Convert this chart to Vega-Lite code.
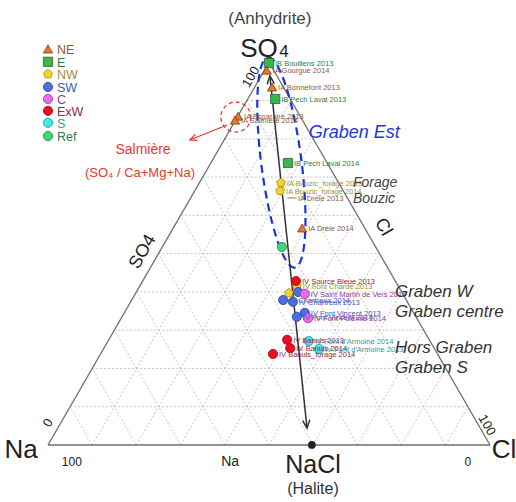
{
  "$schema": "https://vega.github.io/schema/vega-lite/v6.json",
  "width": 516,
  "height": 502,
  "autosize": "none",
  "padding": 0,
  "background": "white",
  "config": {"view": {"stroke": null}, "font": "Liberation Sans", "text": {"font": "Liberation Sans"}},
  "encoding": {
    "x": {"field": "x", "type": "quantitative", "scale": {"domain": [-10.86, 105.88], "nice": false, "zero": false}, "axis": null},
    "y": {"field": "y", "type": "quantitative", "scale": {"domain": [-12.9, 100.68], "nice": false, "zero": false}, "axis": null}
  },
  "layer": [
    {
      "data": {"values": [
        {"x": 5, "y": 8.66, "x2": 95, "y2": 8.66}, {"x": 10, "y": 0, "x2": 55, "y2": 77.94}, {"x": 90, "y": 0, "x2": 45, "y2": 77.94},
        {"x": 10, "y": 17.32, "x2": 90, "y2": 17.32}, {"x": 20, "y": 0, "x2": 60, "y2": 69.28}, {"x": 80, "y": 0, "x2": 40, "y2": 69.28},
        {"x": 15, "y": 25.98, "x2": 85, "y2": 25.98}, {"x": 30, "y": 0, "x2": 65, "y2": 60.62}, {"x": 70, "y": 0, "x2": 35, "y2": 60.62},
        {"x": 20, "y": 34.64, "x2": 80, "y2": 34.64}, {"x": 40, "y": 0, "x2": 70, "y2": 51.96}, {"x": 60, "y": 0, "x2": 30, "y2": 51.96},
        {"x": 25, "y": 43.3, "x2": 75, "y2": 43.3}, {"x": 50, "y": 0, "x2": 75, "y2": 43.3}, {"x": 50, "y": 0, "x2": 25, "y2": 43.3},
        {"x": 30, "y": 51.96, "x2": 70, "y2": 51.96}, {"x": 60, "y": 0, "x2": 80, "y2": 34.64}, {"x": 40, "y": 0, "x2": 20, "y2": 34.64},
        {"x": 35, "y": 60.62, "x2": 65, "y2": 60.62}, {"x": 70, "y": 0, "x2": 85, "y2": 25.98}, {"x": 30, "y": 0, "x2": 15, "y2": 25.98},
        {"x": 40, "y": 69.28, "x2": 60, "y2": 69.28}, {"x": 80, "y": 0, "x2": 90, "y2": 17.32}, {"x": 20, "y": 0, "x2": 10, "y2": 17.32},
        {"x": 45, "y": 77.94, "x2": 55, "y2": 77.94}, {"x": 90, "y": 0, "x2": 95, "y2": 8.66}, {"x": 10, "y": 0, "x2": 5, "y2": 8.66}
      ]},
      "mark": {"type": "rule", "color": "#b5b5b5", "strokeWidth": 0.8, "strokeDash": [2, 2]},
      "encoding": {"x2": {"field": "x2"}, "y2": {"field": "y2"}}
    },
    {
      "data": {"values": [
        {"x": 0, "y": 0, "x2": 100, "y2": 0}, {"x": 0, "y": 0, "x2": 50, "y2": 86.6}, {"x": 100, "y": 0, "x2": 50, "y2": 86.6}
      ]},
      "mark": {"type": "rule", "color": "#6e6e6e", "strokeWidth": 1.3},
      "encoding": {"x2": {"field": "x2"}, "y2": {"field": "y2"}}
    },
    {
      "data": {"values": [{"x": 52.8, "y": 63.9}]},
      "mark": {"type": "point", "shape": "M0,-1C0.105,-1 0.19,-0.552 0.19,0C0.19,0.552 0.105,1 0,1C-0.105,1 -0.19,0.552 -0.19,0C-0.19,-0.552 -0.105,-1 0,-1Z", "size": 44944, "angle": 352.7, "filled": false, "stroke": "#1b33dd", "strokeWidth": 2.2, "strokeDash": [8, 5], "opacity": 1}
    },
    {
      "data": {"values": [{"x": 42.5, "y": 74.2}]},
      "mark": {"type": "point", "shape": "circle", "size": 900, "filled": false, "stroke": "#e5392f", "strokeWidth": 1.3, "strokeDash": [4, 3], "opacity": 1}
    },
    {
      "data": {"values": [{"x": 50.2, "y": 83.5, "x2": 58.6, "y2": 3.8}]},
      "mark": {"type": "rule", "color": "#333333", "strokeWidth": 1.5},
      "encoding": {"x2": {"field": "x2"}, "y2": {"field": "y2"}}
    },
    {
      "data": {"values": [{"x": 50.2, "y": 83.5}]},
      "mark": {"type": "point", "shape": "M-0.45,1L0,0L0.45,1", "size": 256, "angle": 354, "filled": false, "stroke": "#333333", "strokeWidth": 1.5, "opacity": 1}
    },
    {
      "data": {"values": [{"x": 58.6, "y": 3.8}]},
      "mark": {"type": "point", "shape": "M-0.45,1L0,0L0.45,1", "size": 256, "angle": 174, "filled": false, "stroke": "#333333", "strokeWidth": 1.5, "opacity": 1}
    },
    {
      "data": {"values": [{"x": 40.5, "y": 72.4, "x2": 32.1, "y2": 69.0}]},
      "mark": {"type": "rule", "color": "#e5392f", "strokeWidth": 1.3},
      "encoding": {"x2": {"field": "x2"}, "y2": {"field": "y2"}}
    },
    {
      "data": {"values": [{"x": 32.1, "y": 69.0}]},
      "mark": {"type": "point", "shape": "M-0.45,1L0,0L0.45,1", "size": 200, "angle": 248, "filled": false, "stroke": "#e5392f", "strokeWidth": 1.3, "opacity": 1}
    },
    {
      "data": {"values": [{"x": 59.7, "y": 0}]},
      "mark": {"type": "point", "shape": "circle", "size": 60, "filled": true, "color": "#222222", "opacity": 1}
    },
    {
      "data": {"name": "samples", "values": [
        {"g": "E", "x": 50.0, "y": 86.4, "label": "IB Bouillens 2013"},
        {"g": "NE", "x": 49.5, "y": 84.8, "label": "IA Gourgue 2014"},
        {"g": "NE", "x": 50.7, "y": 81.0, "label": "IA Bonnefont 2013"},
        {"g": "E", "x": 51.4, "y": 78.3, "label": "IB Pech Laval 2013"},
        {"g": "NE", "x": 43.0, "y": 74.4, "label": "IA Esparaire 2013"},
        {"g": "NE", "x": 42.3, "y": 73.5, "label": "IA Salmière 2014"},
        {"g": "E", "x": 54.3, "y": 63.8, "label": "IB Pech Laval 2014"},
        {"g": "NW", "x": 52.7, "y": 59.3, "label": "IA Bouzic_forage 2013"},
        {"g": "NW", "x": 52.5, "y": 57.5, "label": "IA Bouzic_forage 2014"},
        {"g": "NEd", "x": 55.2, "y": 55.9, "label": "IA Drèie 2013"},
        {"g": "NE", "x": 57.5, "y": 49.1, "label": "IA Drèie 2014"},
        {"g": "Ref", "x": 52.9, "y": 44.8, "label": ""},
        {"g": "NW", "x": 56.3, "y": 35.9, "label": "IV Font Charde 2013"},
        {"g": "ExW", "x": 56.1, "y": 37.1, "label": "IV Source Bleue  2013"},
        {"g": "NW", "x": 54.5, "y": 34.4, "label": ""},
        {"g": "SW", "x": 56.6, "y": 34.6, "label": ""},
        {"g": "C", "x": 58.1, "y": 34.2, "label": "IV Saint Martin de Vers 2014"},
        {"g": "SW", "x": 53.2, "y": 32.8, "label": "IV Chartreux 2014"},
        {"g": "SW", "x": 55.4, "y": 32.4, "label": "IV Chartreux 2013"},
        {"g": "SW", "x": 58.1, "y": 29.9, "label": "IV Font Vincent 2013"},
        {"g": "SW", "x": 56.3, "y": 29.0, "label": "IV Font Vincent 2014"},
        {"g": "C", "x": 58.8, "y": 28.7, "label": "IV Font Polémie 2014"},
        {"g": "ExW", "x": 54.1, "y": 23.8, "label": "IV Banuls 2013"},
        {"g": "ExW", "x": 54.8, "y": 21.9, "label": "IV Banuls 2014"},
        {"g": "ExW", "x": 50.9, "y": 20.6, "label": "IV Banuls_forage 2014"},
        {"g": "S", "x": 59.0, "y": 23.5, "label": "IV Font d'Armoine 2014"},
        {"g": "S", "x": 61.3, "y": 21.7, "label": "IV Font d'Armoine 2013"}
      ]},
      "layer": [
        {
          "mark": {"type": "point", "filled": true, "size": 85, "strokeWidth": 0.8, "opacity": 1},
          "encoding": {
            "shape": {"field": "g", "type": "nominal", "legend": null, "scale": {"domain": ["NE", "E", "NW", "SW", "C", "ExW", "S", "Ref", "NEd"], "range": ["triangle-up", "square", "M0,-1L0.951,-0.309L0.588,0.809L-0.588,0.809L-0.951,-0.309Z", "circle", "circle", "circle", "circle", "circle", "stroke"]}},
            "fill": {"field": "g", "type": "nominal", "legend": null, "scale": {"domain": ["NE", "E", "NW", "SW", "C", "ExW", "S", "Ref", "NEd"], "range": ["#e5772e", "#3cb54a", "#f5d327", "#4a6fe3", "#ee6bef", "#ea1020", "#3ee8e6", "#3fd96f", "#8b4513"]}},
            "stroke": {"field": "g", "type": "nominal", "legend": null, "scale": {"domain": ["NE", "E", "NW", "SW", "C", "ExW", "S", "Ref", "NEd"], "range": ["#7a3a12", "#1d6b27", "#a88a10", "#26409a", "#9b2c9f", "#9a0a10", "#1c9a98", "#1f8a40", "#8b4513"]}}
          }
        },
        {
          "mark": {"type": "text", "align": "left", "baseline": "middle", "dx": 6, "dy": 1, "fontSize": 7.5},
          "encoding": {
            "text": {"field": "label"},
            "color": {"field": "g", "type": "nominal", "legend": null, "scale": {"domain": ["NE", "E", "NW", "SW", "C", "ExW", "S", "Ref", "NEd"], "range": ["#8b5a3c", "#2e7d3a", "#a08f3a", "#4755b8", "#8e3a8e", "#8c2a40", "#3a9a98", "#2e7d4a", "#8b5a3c"]}}
          }
        }
      ]
    },
    {
      "data": {"values": [
        {"g": "NE", "name": "NE", "x": 0, "y": 89.6},
        {"g": "E", "name": "E", "x": 0, "y": 86.7},
        {"g": "NW", "name": "NW", "x": 0, "y": 83.9},
        {"g": "SW", "name": "SW", "x": 0, "y": 81.0},
        {"g": "C", "name": "C", "x": 0, "y": 78.3},
        {"g": "ExW", "name": "ExW", "x": 0, "y": 75.6},
        {"g": "S", "name": "S", "x": 0, "y": 72.9},
        {"g": "Ref", "name": "Ref", "x": 0, "y": 69.9}
      ]},
      "layer": [
        {
          "mark": {"type": "point", "filled": true, "size": 85, "strokeWidth": 0.8, "opacity": 1},
          "encoding": {
            "shape": {"field": "g", "type": "nominal", "legend": null},
            "fill": {"field": "g", "type": "nominal", "legend": null},
            "stroke": {"field": "g", "type": "nominal", "legend": null}
          }
        },
        {
          "mark": {"type": "text", "align": "left", "baseline": "middle", "dx": 9, "dy": 1, "fontSize": 12.5},
          "encoding": {
            "text": {"field": "name"},
            "color": {"field": "g", "type": "nominal", "legend": null}
          }
        }
      ]
    },
    {
      "data": {"values": [{"x": 50.2, "y": 96.4, "t": "(Anhydrite)"}]},
      "mark": {"type": "text", "fontSize": 17, "color": "#444444", "align": "center", "baseline": "middle"},
      "encoding": {"text": {"field": "t"}}
    },
    {
      "data": {"values": [{"x": 52.0, "y": 87.8, "t": "SO"}]},
      "mark": {"type": "text", "fontSize": 26, "color": "#222222", "align": "right", "baseline": "alphabetic"},
      "encoding": {"text": {"field": "t"}}
    },
    {
      "data": {"values": [{"x": 52.3, "y": 87.8, "t": "4"}]},
      "mark": {"type": "text", "fontSize": 17, "color": "#222222", "align": "left", "baseline": "alphabetic"},
      "encoding": {"text": {"field": "t"}}
    },
    {
      "data": {"values": [{"x": -2.3, "y": -1.1, "t": "Na"}]},
      "mark": {"type": "text", "fontSize": 26, "color": "#222222", "align": "right", "baseline": "middle"},
      "encoding": {"text": {"field": "t"}}
    },
    {
      "data": {"values": [{"x": 100.4, "y": -1.1, "t": "Cl"}]},
      "mark": {"type": "text", "fontSize": 26, "color": "#222222", "align": "left", "baseline": "middle"},
      "encoding": {"text": {"field": "t"}}
    },
    {
      "data": {"values": [{"x": 59.95, "y": -4.5, "t": "NaCl"}]},
      "mark": {"type": "text", "fontSize": 25, "color": "#222222", "align": "center", "baseline": "middle"},
      "encoding": {"text": {"field": "t"}}
    },
    {
      "data": {"values": [{"x": 59.95, "y": -10.0, "t": "(Halite)"}]},
      "mark": {"type": "text", "fontSize": 16, "color": "#333333", "align": "center", "baseline": "middle"},
      "encoding": {"text": {"field": "t"}}
    },
    {
      "data": {"values": [{"x": 41.2, "y": -3.85, "t": "Na"}]},
      "mark": {"type": "text", "fontSize": 14, "color": "#222222", "align": "center", "baseline": "middle"},
      "encoding": {"text": {"field": "t"}}
    },
    {
      "data": {"values": [{"x": 5.4, "y": -3.85, "t": "100"}, {"x": 95.0, "y": -3.85, "t": "0"}]},
      "mark": {"type": "text", "fontSize": 12, "color": "#222222", "align": "center", "baseline": "middle"},
      "encoding": {"text": {"field": "t"}}
    },
    {
      "data": {"values": [{"x": 21.5, "y": 43.7, "t": "SO4"}]},
      "mark": {"type": "text", "fontSize": 18, "color": "#222222", "align": "center", "baseline": "middle", "angle": 300},
      "encoding": {"text": {"field": "t"}}
    },
    {
      "data": {"values": [{"x": 45.9, "y": 83.3, "t": "100"}, {"x": 0.0, "y": 5.0, "t": "0"}]},
      "mark": {"type": "text", "fontSize": 13, "color": "#222222", "align": "center", "baseline": "middle", "angle": 300},
      "encoding": {"text": {"field": "t"}}
    },
    {
      "data": {"values": [{"x": 75.8, "y": 49.3, "t": "Cl"}]},
      "mark": {"type": "text", "fontSize": 18, "color": "#222222", "align": "center", "baseline": "middle", "angle": 60},
      "encoding": {"text": {"field": "t"}}
    },
    {
      "data": {"values": [{"x": 99.3, "y": 4.5, "t": "100"}]},
      "mark": {"type": "text", "fontSize": 13, "color": "#222222", "align": "center", "baseline": "middle", "angle": 60},
      "encoding": {"text": {"field": "t"}}
    },
    {
      "data": {"values": [{"x": 21.5, "y": 66.7, "t": "Salmière"}]},
      "mark": {"type": "text", "fontSize": 14, "color": "#e5392f", "align": "center", "baseline": "middle"},
      "encoding": {"text": {"field": "t"}}
    },
    {
      "data": {"values": [{"x": 20.8, "y": 61.5, "t": "(SO₄ / Ca+Mg+Na)"}]},
      "mark": {"type": "text", "fontSize": 13, "color": "#e5392f", "align": "center", "baseline": "middle"},
      "encoding": {"text": {"field": "t"}}
    },
    {
      "data": {"values": [{"x": 59.0, "y": 70.6, "t": "Graben Est"}]},
      "mark": {"type": "text", "fontSize": 18, "fontStyle": "italic", "color": "#2436d4", "align": "left", "baseline": "middle"},
      "encoding": {"text": {"field": "t"}}
    },
    {
      "data": {"values": [{"x": 69.0, "y": 59.3, "t": "Forage"}, {"x": 69.0, "y": 55.7, "t": "Bouzic"}]},
      "mark": {"type": "text", "fontSize": 14, "fontStyle": "italic", "color": "#444444", "align": "left", "baseline": "middle"},
      "encoding": {"text": {"field": "t"}}
    },
    {
      "data": {"values": [{"x": 78.5, "y": 34.6, "t": "Graben W"}, {"x": 78.5, "y": 30.1, "t": "Graben centre"}, {"x": 78.5, "y": 21.9, "t": "Hors Graben"}, {"x": 78.5, "y": 17.4, "t": "Graben S"}]},
      "mark": {"type": "text", "fontSize": 17, "fontStyle": "italic", "color": "#333333", "align": "left", "baseline": "middle"},
      "encoding": {"text": {"field": "t"}}
    }
  ]
}
